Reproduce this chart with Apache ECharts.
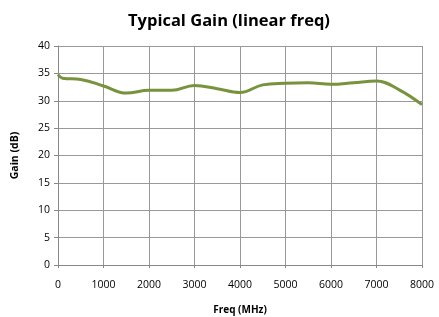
<!DOCTYPE html>
<html>
<head>
<meta charset="utf-8">
<script src="https://cdn.jsdelivr.net/npm/echarts@6/dist/echarts.min.js"></script>
<style>
  html, body { margin: 0; padding: 0; background: #fff; }
  #chart { width: 439px; height: 317px; }
</style>
</head>
<body>
<div id="chart"></div>
<script>
(function () {
    'use strict';

    // gain curve
    var freqMHz = [0, 100, 500, 1000, 1500, 2000, 2500, 3000, 3500, 4000, 4500, 5000, 5500, 6000, 6500, 7000, 7500, 8000];
    var gainDb = [34.8, 34.1, 33.9, 32.7, 31.4, 31.9, 31.9, 32.8, 32.2, 31.5, 32.9, 33.2, 33.3, 33.0, 33.3, 33.6, 32.0, 29.3];

    var points = [];
    for (var i = 0; i < freqMHz.length; i++) {
        points.push([freqMHz[i], gainDb[i]]);
    }

    var font = 'Open Sans';
    var myChart = echarts.init(document.getElementById('chart'));

    myChart.setOption({
        animation: false,
        title: {
            text: 'Typical Gain (linear freq)',
            left: 123,
            top: 8,
            textStyle: { fontFamily: font, fontSize: 16.5, fontWeight: 'bold', color: '#000' }
        },
        grid: { left: 58, right: 17, top: 46, bottom: 52, outerBoundsMode: 'none', containLabel: false },
        xAxis: {
            type: 'value',
            min: 0,
            max: 8000,
            interval: 1000,
            name: 'Freq (MHz)',
            nameLocation: 'middle',
            nameGap: 40,
            nameTextStyle: { fontFamily: font, fontSize: 10, fontWeight: 'bold', color: '#000' },
            axisLine: { show: true, lineStyle: { color: '#888' } },
            axisTick: { show: true, length: 3, lineStyle: { color: '#888' } },
            axisLabel: {
                fontFamily: font, fontSize: 10.5, color: '#000', margin: 15,
                formatter: function (v) { return String(v); }
            },
            splitLine: { show: true, lineStyle: { color: '#999', width: 1 } }
        },
        yAxis: {
            type: 'value',
            min: 0,
            max: 40,
            interval: 5,
            name: 'Gain (dB)',
            nameLocation: 'middle',
            nameGap: 37,
            nameTextStyle: { fontFamily: font, fontSize: 10.5, fontWeight: 'bold', color: '#000' },
            axisLine: { show: true, lineStyle: { color: '#888' } },
            axisTick: { show: true, length: 4, lineStyle: { color: '#888' } },
            axisLabel: { fontFamily: font, fontSize: 10.5, color: '#000', margin: 8 },
            splitLine: { show: true, lineStyle: { color: '#999', width: 1 } }
        },
        series: [{
            type: 'line',
            data: points,
            smooth: 0.4,
            showSymbol: false,
            lineStyle: { color: '#77933C', width: 3 }
        }]
    });
}());
</script>
</body>
</html>
